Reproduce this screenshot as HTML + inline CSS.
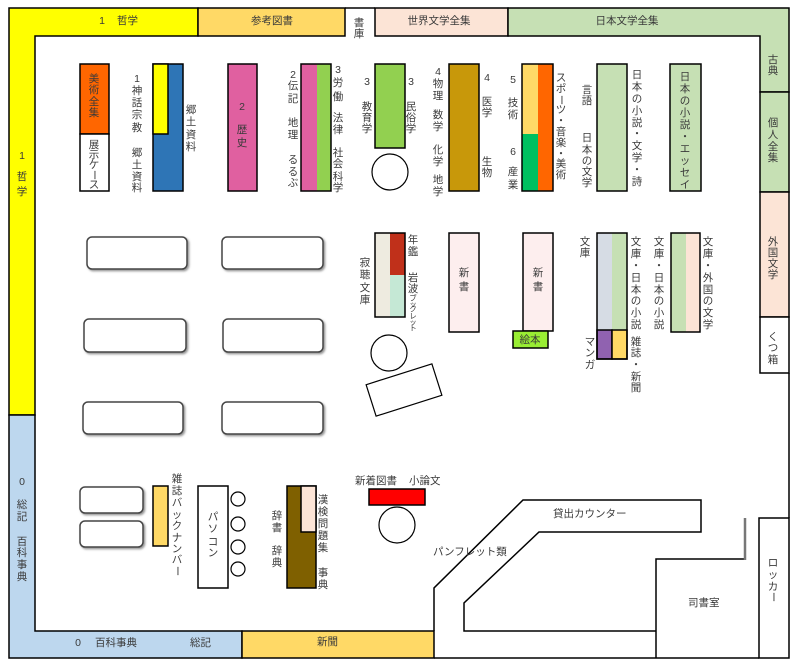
<!DOCTYPE html>
<html><head><meta charset="utf-8"><style>
html,body{margin:0;padding:0;background:#fff;}
svg{display:block;}
text{font-family:"Liberation Sans","Noto Sans CJK JP",sans-serif;font-size:10.5px;fill:#3a3a3a;}
.v{text-anchor:middle;dominant-baseline:central;}
.h{dominant-baseline:central;}
.m{text-anchor:middle;dominant-baseline:central;}
.sk{stroke:#000;stroke-width:1.5;}
</style></head><body>
<svg width="800" height="666" viewBox="0 0 800 666" xmlns="http://www.w3.org/2000/svg">
<defs>
<filter id="sh" x="-10%" y="-20%" width="130%" height="160%">
<feDropShadow dx="1.5" dy="1.5" stdDeviation="1" flood-color="#777" flood-opacity="0.8"/>
</filter>
</defs>
<rect x="0" y="0" width="800" height="666" fill="#fff"/>

<!-- Perimeter bands -->
<polygon points="9,8 198,8 198,36 35,36 35,415 9,415" fill="#FFFF00" class="sk"/>
<polygon points="9,415 35,415 35,631 242,631 242,658 9,658" fill="#BDD7EE" class="sk"/>
<rect x="242" y="631" width="192" height="27" fill="#FFD966" class="sk"/>
<rect x="198" y="8" width="147" height="28" fill="#FFD966" class="sk"/>
<line x1="345" y1="8" x2="375" y2="8" class="sk"/>
<rect x="375" y="8" width="133" height="28" fill="#FCE4D6" class="sk"/>
<polygon points="508,8 789,8 789,92 760,92 760,36 508,36" fill="#C6E0B4" class="sk"/>
<rect x="760" y="92" width="29" height="100" fill="#C6E0B4" class="sk"/>
<rect x="760" y="192" width="29" height="125" fill="#FCE4D6" class="sk"/>
<rect x="760" y="317" width="29" height="56" fill="#fff" class="sk"/>
<line x1="789" y1="373" x2="789" y2="518" class="sk"/>
<rect x="759" y="518" width="30" height="140" fill="#fff" class="sk"/>
<line x1="434" y1="658" x2="759" y2="658" class="sk"/>

<!-- Counter / office -->
<polyline points="434,631 434,588 523,500 701,500 701,532 539,532 464,603 464,631 656,631" fill="none" class="sk"/>
<polyline points="656,658 656,559 745,559" fill="none" class="sk"/>
<line x1="745" y1="518" x2="745" y2="560" stroke="#777" stroke-width="2.5"/>

<!-- Top row shelves -->
<rect x="80" y="64" width="29" height="70" fill="#FF6600" class="sk"/>
<rect x="80" y="134" width="29" height="57" fill="#fff" class="sk"/>
<rect x="153" y="64" width="30" height="127" fill="#2E75B6" class="sk"/>
<rect x="153" y="64" width="15" height="70" fill="#FFFF00" class="sk"/>
<rect x="228" y="64" width="29" height="127" fill="#E060A0" class="sk"/>
<rect x="301" y="64" width="16" height="127" fill="#E060A0"/>
<rect x="317" y="64" width="14" height="127" fill="#92D050"/>
<rect x="301" y="64" width="30" height="127" fill="none" class="sk"/>
<rect x="375" y="64" width="30" height="84" fill="#92D050" class="sk"/>
<circle cx="390" cy="172" r="18" fill="#fff" stroke="#000" stroke-width="1.2"/>
<rect x="449" y="64" width="30" height="127" fill="#C8980A" class="sk"/>
<rect x="522" y="64" width="16" height="70" fill="#FFD966"/>
<rect x="522" y="134" width="16" height="57" fill="#00C060"/>
<rect x="538" y="64" width="15" height="127" fill="#FF6600"/>
<rect x="522" y="64" width="31" height="127" fill="none" class="sk"/>
<rect x="597" y="64" width="30" height="127" fill="#C6E0B4" class="sk"/>
<rect x="670" y="64" width="31" height="127" fill="#C6E0B4" class="sk"/>

<!-- Tables -->
<g filter="url(#sh)" fill="#fff" stroke="#444" stroke-width="1.5">
<rect x="87" y="237" width="100" height="32" rx="5"/>
<rect x="222" y="237" width="101" height="32" rx="5"/>
<rect x="84" y="319" width="102" height="33" rx="5"/>
<rect x="223" y="319" width="100" height="33" rx="5"/>
<rect x="83" y="402" width="100" height="32" rx="5"/>
<rect x="222" y="402" width="101" height="32" rx="5"/>
<rect x="80" y="487" width="63" height="26" rx="5"/>
<rect x="80" y="521" width="63" height="26" rx="5"/>
</g>

<!-- Middle shelves -->
<rect x="375" y="233" width="15" height="84" fill="#EEEBE0"/>
<rect x="390" y="233" width="15" height="42" fill="#C0301A"/>
<rect x="390" y="275" width="15" height="42" fill="#C5E8D5"/>
<rect x="375" y="233" width="30" height="84" fill="none" class="sk"/>
<circle cx="389" cy="353" r="18" fill="#fff" stroke="#000" stroke-width="1.2"/>
<rect x="369.5" y="373.5" width="69" height="33" fill="#fff" stroke="#000" stroke-width="1.2" transform="rotate(-17.6 404 390)"/>
<rect x="449" y="233" width="30" height="99" fill="#FDEEEE" class="sk"/>
<rect x="523" y="233" width="30" height="98" fill="#FDEEEE" class="sk"/>
<rect x="513" y="331" width="35" height="17" fill="#99EE33" class="sk"/>
<rect x="597" y="233" width="15" height="97" fill="#D6DCE4"/>
<rect x="612" y="233" width="15" height="97" fill="#C6E0B4"/>
<rect x="597" y="330" width="15" height="29" fill="#9062B0" class="sk"/>
<rect x="612" y="330" width="15" height="29" fill="#FFD966" class="sk"/>
<rect x="597" y="233" width="30" height="126" fill="none" class="sk"/>
<rect x="671" y="233" width="15" height="99" fill="#C6E0B4"/>
<rect x="686" y="233" width="14" height="99" fill="#FCE4D6"/>
<rect x="671" y="233" width="29" height="99" fill="none" class="sk"/>

<!-- Bottom items -->
<rect x="153" y="486" width="15" height="60" fill="#FFD966" class="sk"/>
<rect x="198" y="486" width="30" height="102" fill="#fff" class="sk"/>
<g fill="#fff" stroke="#000" stroke-width="1.2">
<circle cx="238" cy="499" r="7"/><circle cx="238" cy="524" r="7"/><circle cx="238" cy="547" r="7"/><circle cx="238" cy="569" r="7"/>
</g>
<rect x="287" y="486" width="29" height="102" fill="#7F6000" class="sk"/>
<rect x="301" y="486" width="15" height="46" fill="#FCE4D6" class="sk"/>
<rect x="369" y="489" width="56" height="16" fill="#FF0000" class="sk"/>
<circle cx="397" cy="525" r="18" fill="#fff" stroke="#000" stroke-width="1.2"/>

<!-- ===== Text ===== -->
<!-- left column -->
<text class="v" x="22" y="156">1</text>
<text class="v" x="22 22" y="177 192">哲学</text>
<text class="v" x="22" y="482">0</text>
<text class="v" x="22 22" y="505 517">総記</text>
<text class="v" x="22 22 22 22" y="542 553 565 577">百科事典</text>

<!-- top band -->
<text class="m" x="102" y="21">1</text>
<text class="h" x="117" y="21">哲学</text>
<text class="m" x="272" y="21">参考図書</text>
<text class="v" x="359 359" y="23 34">書庫</text>
<text class="m" x="439" y="21">世界文学全集</text>
<text class="m" x="627" y="21">日本文学全集</text>

<!-- right column -->
<text class="v" x="773 773" y="60 71">古典</text>
<text class="v" x="773 773 773 773" y="123 135 147 158">個人全集</text>
<text class="v" x="773 773 773 773" y="242 253 264 275">外国文学</text>
<text class="v" x="773 773 773" y="337 348 360">くつ箱</text>
<text class="v" x="773 773 773" y="563 575 587">ロッカ</text>
<text class="m" transform="translate(773 597) rotate(90)">ー</text>

<!-- top row labels -->
<text class="v" x="94 94 94 94" y="79 90 102 113">美術全集</text>
<text class="v" x="94 94 94" y="145 155 165">展示ケ</text>
<text class="m" transform="translate(94 175) rotate(90)">ー</text>
<text class="v" x="94" y="185">ス</text>
<text class="v" x="137" y="79">1</text>
<text class="v" x="137 137 137 137" y="91 103 115 128">神話宗教</text>
<text class="v" x="137 137 137 137" y="153 165 177 188">郷土資料</text>
<text class="v" x="191 191 191 191" y="110 122 135 147">郷土資料</text>
<text class="v" x="242" y="107">2</text>
<text class="v" x="242 242" y="130 143">歴史</text>
<text class="v" x="293" y="75">2</text>
<text class="v" x="293 293" y="86 99">伝記</text>
<text class="v" x="293 293" y="123 135">地理</text>
<text class="v" x="293 293 293" y="160 172 183">るるぶ</text>
<text class="v" x="338" y="70">3</text>
<text class="v" x="338 338" y="83 97">労働</text>
<text class="v" x="338 338" y="118 130">法律</text>
<text class="v" x="338 338 338 338" y="153 164 177 188">社会科学</text>
<text class="v" x="367" y="82">3</text>
<text class="v" x="367 367 367" y="107 118 129">教育学</text>
<text class="v" x="411" y="82">3</text>
<text class="v" x="411 411 411" y="107 118 129">民俗学</text>
<text class="v" x="438" y="72">4</text>
<text class="v" x="438 438" y="84 96">物理</text>
<text class="v" x="438 438" y="115 127">数学</text>
<text class="v" x="438 438" y="150 162">化学</text>
<text class="v" x="438 438" y="180 192">地学</text>
<text class="v" x="487" y="78">4</text>
<text class="v" x="487 487" y="102 113">医学</text>
<text class="v" x="487 487" y="162 173">生物</text>
<text class="v" x="513" y="80">5</text>
<text class="v" x="513 513" y="103 115">技術</text>
<text class="v" x="513" y="152">6</text>
<text class="v" x="513 513" y="172 185">産業</text>
<text class="v" x="561 561" y="78 89">スポ</text>
<text class="m" transform="translate(561 100) rotate(90)">ー</text>
<text class="v" x="561 561 561 561 561 561 561" y="110 121 132 143 154 164 175">ツ・音楽・美術</text>
<text class="v" x="587 587" y="90 101">言語</text>
<text class="v" x="587 587 587 587 587" y="138 150 161 172 183">日本の文学</text>
<text class="v" x="637 637 637 637 637 637 637 637 637 637" y="75 87 99 111 123 134 146 158 170 182">日本の小説・文学・詩</text>
<text class="v" x="685 685 685 685 685 685 685 685 685 685" y="77 89 101 113 125 137 149 161 173 185">日本の小説・エッセイ</text>

<!-- middle labels -->
<text class="v" x="365 365 365 365" y="263 275 288 300">寂聴文庫</text>
<text class="v" x="413 413" y="240 252">年鑑</text>
<text class="v" x="413 413" y="278 289">岩波</text>
<text class="v" style="font-size:7.5px" x="413 413 413 413 413 413" y="298 304 309 316 322 328">ブックレット</text>
<text class="v" x="464 464" y="273 287">新書</text>
<text class="v" x="538 538" y="273 287">新書</text>
<text class="m" x="530" y="340">絵本</text>
<text class="v" x="585 585" y="242 253">文庫</text>
<text class="v" x="590 590 590" y="342 353 365">マンガ</text>
<text class="v" x="636 636 636 636 636 636 636 636" y="242 254 266 278 290 301 313 325">文庫・日本の小説</text>
<text class="v" x="636 636 636 636 636" y="342 353 365 377 388">雑誌・新聞</text>
<text class="v" x="659 659 659 659 659 659 659 659" y="242 254 266 278 290 301 313 325">文庫・日本の小説</text>
<text class="v" x="708 708 708 708 708 708 708 708" y="242 254 266 278 290 301 313 325">文庫・外国の文学</text>

<!-- bottom labels -->
<text class="v" x="177 177 177 177 177 177 177 177" y="479 491 503 515 526 538 549 560">雑誌バックナンバ</text>
<text class="m" transform="translate(177 571) rotate(90)">ー</text>
<text class="v" x="213 213 213 213" y="517 529 542 553">パソコン</text>
<text class="v" x="277 277" y="516 528">辞書</text>
<text class="v" x="277 277" y="551 563">辞典</text>
<text class="v" x="323 323 323 323 323" y="500 512 524 536 548">漢検問題集</text>
<text class="v" x="323 323" y="573 585">事典</text>
<text class="h" x="355" y="481">新着図書</text>
<text class="h" x="409" y="481">小論文</text>
<text class="h" x="433" y="552">パンフレット類</text>
<text class="h" x="553" y="514">貸出カウンター</text>
<text class="h" x="688" y="603">司書室</text>
<text class="m" x="78" y="643">0</text>
<text class="h" x="95" y="643">百科事典</text>
<text class="h" x="190" y="643">総記</text>
<text class="h" x="317" y="642">新聞</text>
</svg>
</body></html>
